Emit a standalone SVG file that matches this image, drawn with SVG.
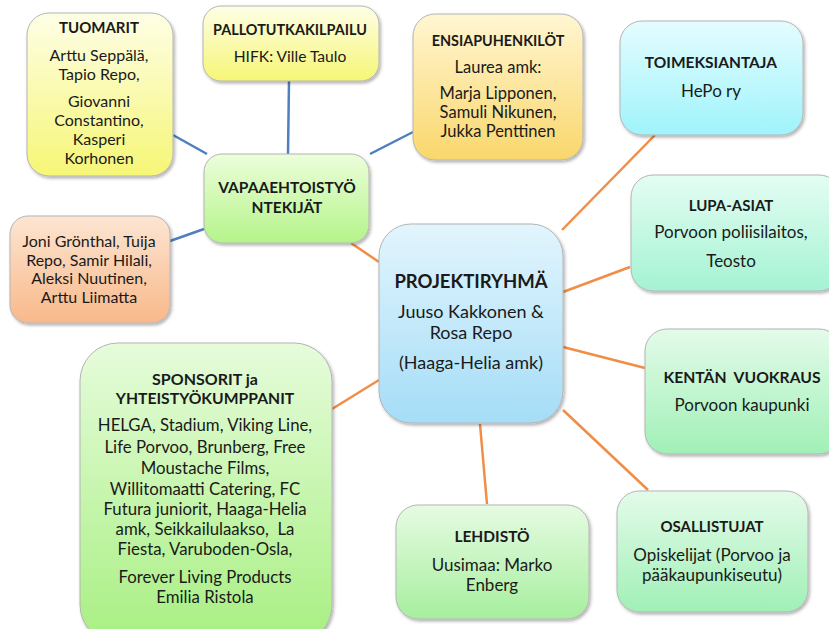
<svg xmlns="http://www.w3.org/2000/svg" width="829" height="629" viewBox="0 0 829 629">
<defs>
<filter id="sh" x="-10%" y="-10%" width="130%" height="130%"><feDropShadow dx="1.5" dy="2" stdDeviation="1.5" flood-color="#000" flood-opacity="0.3"/></filter>
<linearGradient id="gY" x1="0" y1="0" x2="0" y2="1"><stop offset="0" stop-color="#fefee6"/><stop offset="1" stop-color="#f6f676"/></linearGradient>
<linearGradient id="gO" x1="0" y1="0" x2="0" y2="1"><stop offset="0" stop-color="#fff6d2"/><stop offset="1" stop-color="#fad76c"/></linearGradient>
<linearGradient id="gC" x1="0" y1="0" x2="0" y2="1"><stop offset="0" stop-color="#e4fcff"/><stop offset="1" stop-color="#9ff4fb"/></linearGradient>
<linearGradient id="gA" x1="0" y1="0" x2="0" y2="1"><stop offset="0" stop-color="#e4fdf3"/><stop offset="1" stop-color="#a4f3d3"/></linearGradient>
<linearGradient id="gG" x1="0" y1="0" x2="0" y2="1"><stop offset="0" stop-color="#ecfedb"/><stop offset="1" stop-color="#b5f48a"/></linearGradient>
<linearGradient id="gP" x1="0" y1="0" x2="0" y2="1"><stop offset="0" stop-color="#fde5d2"/><stop offset="1" stop-color="#f8b98a"/></linearGradient>
<linearGradient id="gB" x1="0" y1="0" x2="0" y2="1"><stop offset="0" stop-color="#e2f5fd"/><stop offset="1" stop-color="#a5ddf7"/></linearGradient>
<linearGradient id="gM" x1="0" y1="0" x2="0" y2="1"><stop offset="0" stop-color="#e4fbea"/><stop offset="1" stop-color="#a0f0b6"/></linearGradient>
<linearGradient id="gL" x1="0" y1="0" x2="0" y2="1"><stop offset="0" stop-color="#e6fbe2"/><stop offset="1" stop-color="#a6ef9e"/></linearGradient>
<linearGradient id="gS" x1="0" y1="0" x2="0" y2="1"><stop offset="0" stop-color="#e6fcdb"/><stop offset="1" stop-color="#a8ef82"/></linearGradient>
</defs>
<style>
.box{stroke:#b4b4b4;stroke-width:1;filter:url(#sh)}
text{font-family:Lato,"Liberation Sans",sans-serif;font-size:16.5px;fill:#1a1a1a;text-anchor:middle}
.t{font-weight:bold;font-size:15px}
.blue{stroke:#4f7fbd;stroke-width:2.5;fill:none}
.org{stroke:#f08e48;stroke-width:2.5;fill:none}
</style>
<g id="connectors">
<line class="blue" x1="173" y1="135" x2="207" y2="154"/>
<line class="blue" x1="289" y1="81" x2="288" y2="154"/>
<line class="blue" x1="370" y1="154" x2="413" y2="132"/>
<line class="blue" x1="170" y1="241" x2="204" y2="229"/>
<line class="org" x1="351" y1="243" x2="379" y2="262"/>
<line class="org" x1="655" y1="135" x2="562" y2="230"/>
<line class="org" x1="630" y1="267" x2="563" y2="292"/>
<line class="org" x1="563" y1="347" x2="645" y2="368"/>
<line class="org" x1="563" y1="410" x2="648" y2="490"/>
<line class="org" x1="480" y1="424" x2="487" y2="504"/>
<line class="org" x1="332" y1="409" x2="379" y2="380"/>
</g>
<g id="tuomarit">
<rect class="box" x="27" y="13" width="146" height="163" rx="22" fill="url(#gY)"/>
<text class="t" x="99" y="33">TUOMARIT</text>
<text x="99" y="61" style="font-size:16px">Arttu Seppälä,</text>
<text x="99" y="80" style="font-size:16px">Tapio Repo,</text>
<text x="99" y="107" style="font-size:16px">Giovanni</text>
<text x="99" y="126" style="font-size:16px">Constantino,</text>
<text x="99" y="145" style="font-size:16px">Kasperi</text>
<text x="99" y="164" style="font-size:16px">Korhonen</text>
</g>
<g id="pallotutkakilpailu">
<rect class="box" x="203" y="6" width="176" height="75" rx="18" fill="url(#gY)"/>
<text class="t" x="290" y="35" style="font-size:14.4px">PALLOTUTKAKILPAILU</text>
<text x="290" y="62" style="font-size:15.6px">HIFK: Ville Taulo</text>
</g>
<g id="ensiapuhenkilot">
<rect class="box" x="413" y="14" width="170" height="146" rx="22" fill="url(#gO)"/>
<text class="t" x="498" y="46" style="font-size:14.4px">ENSIAPUHENKILÖT</text>
<text x="498" y="73">Laurea amk:</text>
<text x="498" y="99">Marja Lipponen,</text>
<text x="498" y="118">Samuli Nikunen,</text>
<text x="498" y="137">Jukka Penttinen</text>
</g>
<g id="toimeksiantaja">
<rect class="box" x="620" y="21" width="183" height="114" rx="22" fill="url(#gC)"/>
<text class="t" x="711" y="68" style="font-size:15.5px">TOIMEKSIANTAJA</text>
<text x="711" y="97" style="font-size:17px">HePo ry</text>
</g>
<g id="lupa-asiat">
<rect class="box" x="631" y="175" width="210" height="116" rx="22" fill="url(#gA)"/>
<text class="t" x="731" y="211">LUPA-ASIAT</text>
<text x="731" y="238" style="font-size:17px">Porvoon poliisilaitos,</text>
<text x="731" y="267" style="font-size:17px">Teosto</text>
</g>
<g id="vapaaehtoistyontekijat">
<rect class="box" x="204" y="154" width="165" height="89" rx="18" fill="url(#gG)"/>
<text class="t" x="287" y="193" style="font-size:15.5px">VAPAAEHTOISTYÖ</text>
<text class="t" x="287" y="213" style="font-size:15.5px">NTEKIJÄT</text>
</g>
<g id="vapaaehtoiset">
<rect class="box" x="10" y="216" width="160" height="107" rx="18" fill="url(#gP)"/>
<text x="89" y="247" style="font-size:16px">Joni Grönthal, Tuija</text>
<text x="89" y="266" style="font-size:16px">Repo, Samir Hilali,</text>
<text x="89" y="284" style="font-size:16px">Aleksi Nuutinen,</text>
<text x="89" y="303" style="font-size:16px">Arttu Liimatta</text>
</g>
<g id="projektiryhma">
<rect class="box" x="379" y="224" width="184" height="199" rx="32" fill="url(#gB)"/>
<text class="t" x="471" y="288" style="font-size:18.5px">PROJEKTIRYHMÄ</text>
<text x="471" y="318" style="font-size:18px">Juuso Kakkonen &amp;</text>
<text x="471" y="339" style="font-size:18px">Rosa Repo</text>
<text x="471" y="369" style="font-size:18px">(Haaga-Helia amk)</text>
</g>
<g id="kentan-vuokraus">
<rect class="box" x="645" y="329" width="196" height="125" rx="22" fill="url(#gM)"/>
<text class="t" x="742" y="383" xml:space="preserve" style="font-size:15.7px">KENTÄN  VUOKRAUS</text>
<text x="742" y="411" style="font-size:17px">Porvoon kaupunki</text>
</g>
<g id="osallistujat">
<rect class="box" x="617" y="491" width="191" height="121" rx="22" fill="url(#gM)"/>
<text class="t" x="712" y="532">OSALLISTUJAT</text>
<text x="712" y="561" style="font-size:17px">Opiskelijat (Porvoo ja</text>
<text x="712" y="581" style="font-size:17px">pääkaupunkiseutu)</text>
</g>
<g id="lehdisto">
<rect class="box" x="396" y="505" width="193" height="114" rx="22" fill="url(#gL)"/>
<text class="t" x="492" y="542" style="font-size:15.5px">LEHDISTÖ</text>
<text x="492" y="571" style="font-size:17px">Uusimaa: Marko</text>
<text x="492" y="591" style="font-size:17px">Enberg</text>
</g>
<g id="sponsorit">
<rect class="box" x="80" y="343" width="252" height="300" rx="38" fill="url(#gS)"/>
<text class="t" x="205" y="385" style="font-size:16px">SPONSORIT ja</text>
<text class="t" x="205" y="404" style="font-size:15.7px">YHTEISTYÖKUMPPANIT</text>
<text x="205" y="431" style="font-size:16.8px">HELGA, Stadium, Viking Line,</text>
<text x="205" y="453" style="font-size:16.8px">Life Porvoo, Brunberg, Free</text>
<text x="205" y="474" style="font-size:16.8px">Moustache Films,</text>
<text x="205" y="495" style="font-size:16.8px">Willitomaatti Catering, FC</text>
<text x="205" y="515" style="font-size:16.8px">Futura juniorit, Haaga-Helia</text>
<text x="205" y="535" style="font-size:16.8px" xml:space="preserve">amk, Seikkailulaakso,  La</text>
<text x="205" y="555" style="font-size:16.8px">Fiesta, Varuboden-Osla,</text>
<text x="205" y="583" style="font-size:16.8px">Forever Living Products</text>
<text x="205" y="603" style="font-size:16.8px">Emilia Ristola</text>
</g>
</svg>
